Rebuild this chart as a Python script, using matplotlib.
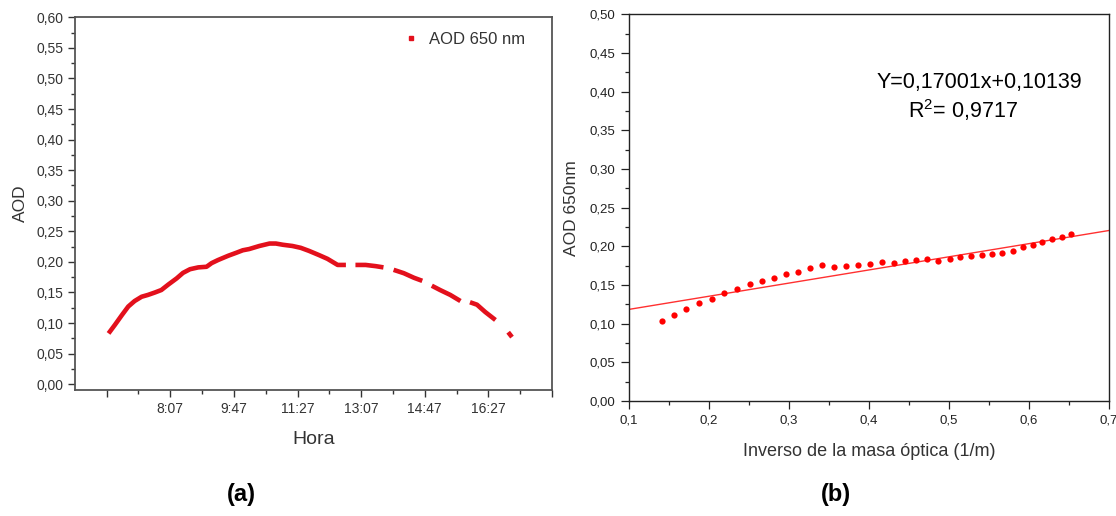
import numpy as np
import matplotlib
matplotlib.use('Agg')
import matplotlib.pyplot as plt
from matplotlib.ticker import MultipleLocator, FuncFormatter, FixedLocator
from matplotlib.lines import Line2D

plt.rcParams['font.family'] = ['Liberation Sans', 'DejaVu Sans']
plt.rcParams['mathtext.fontset'] = 'custom'
plt.rcParams['mathtext.rm'] = 'Liberation Sans'

###############################################################################
# Datos
###############################################################################
# (a) AOD 650 nm a lo largo del dia (minutos desde medianoche, NaN = hueco)
hora_min = [390, 400, 411, 421, 431, 442, 452, 463, 473, 484, 497, 507, 518,
            531, 544, 552, 562, 578, 591, 601, 611, 627, 643, 653, 664, 679,
            692, 705, 721, 734, 750, 763, np.nan,
            778, 794, 810, 822, np.nan,
            838, 854, 870, 883, np.nan,
            898, 911, 927, 943, np.nan,
            958, 969, 982, 998, np.nan,
            1018, 1024]
aod_650 = [0.083, 0.097, 0.113, 0.127, 0.136, 0.143, 0.146, 0.150, 0.154,
           0.163, 0.173, 0.182, 0.188, 0.191, 0.192, 0.198, 0.203, 0.210,
           0.215, 0.219, 0.221, 0.226, 0.230, 0.230, 0.228, 0.226, 0.223,
           0.218, 0.211, 0.205, 0.195, 0.195, np.nan,
           0.195, 0.195, 0.193, 0.191, np.nan,
           0.187, 0.1815, 0.174, 0.169, np.nan,
           0.161, 0.154, 0.146, 0.136, np.nan,
           0.134, 0.130, 0.118, 0.105, np.nan,
           0.085, 0.077]
ticks_hora = [387, 487, 587, 687, 787, 887, 987, 1087]
etiquetas_hora = ['', '8:07', '9:47', '11:27', '13:07', '14:47', '16:27', '']

# (b) AOD vs inverso de la masa optica
inv_masa = [0.141, 0.156, 0.172, 0.188, 0.204, 0.219, 0.235, 0.251, 0.266,
            0.281, 0.297, 0.312, 0.327, 0.342, 0.357, 0.372, 0.387, 0.402,
            0.416, 0.431, 0.445, 0.459, 0.473, 0.487, 0.501, 0.514, 0.528,
            0.541, 0.554, 0.567, 0.580, 0.593, 0.605, 0.617, 0.629, 0.642,
            0.653]
aod_b = [0.1034, 0.1108, 0.1193, 0.1263, 0.1319, 0.1396, 0.1448, 0.1509,
         0.1548, 0.1590, 0.1642, 0.1672, 0.1720, 0.1762, 0.1729, 0.1746,
         0.1762, 0.1775, 0.1801, 0.1784, 0.1806, 0.1823, 0.1840, 0.1814,
         0.1836, 0.1858, 0.1879, 0.1892, 0.1905, 0.1917, 0.1943, 0.1991,
         0.2017, 0.2052, 0.2099, 0.2120, 0.2155]
pendiente, intercepto = 0.17001, 0.10139

###############################################################################
def coma(nd):
    # decimales con coma
    return FuncFormatter(lambda v, p: f'{v:.{nd}f}'.replace('.', ','))
###############################################################################

fig = plt.figure(figsize=(11.16, 5.16), dpi=100)
rojo = '#e3101c'

# ---------------- (a)
ax1 = fig.add_axes([0.0676, 0.2442, 0.4271, 0.7223])
ax1.plot(hora_min, aod_650, '-', color=rojo, lw=3.3, solid_capstyle='butt')
ax1.set_xlim(338, 1087)
ax1.set_ylim(-0.0095, 0.60)
ax1.yaxis.set_major_locator(MultipleLocator(0.05))
ax1.yaxis.set_minor_locator(MultipleLocator(0.025))
ax1.yaxis.set_major_formatter(coma(2))
ax1.set_xticks(ticks_hora)
ax1.set_xticklabels(etiquetas_hora)
medios = [(a + b) / 2 for a, b in zip(ticks_hora[:-1], ticks_hora[1:])]
ax1.xaxis.set_minor_locator(FixedLocator(medios))
ax1.tick_params(which='both', direction='out', colors='#333333', labelsize=10,
                width=1.0)
ax1.tick_params(which='major', length=5)
ax1.tick_params(which='minor', length=3)
for s in ax1.spines.values():
    s.set_color('#555555')
    s.set_linewidth(1.3)
ax1.set_xlabel('Hora', fontsize=14, color='#333333', labelpad=11)
ax1.set_ylabel('AOD', fontsize=12.5, color='#333333', labelpad=6)
h = Line2D([], [], marker='s', ls='', color=rojo, ms=3)
ax1.legend([h], ['AOD 650 nm'], loc='upper right', frameon=False,
           fontsize=12, handlelength=1.0, handletextpad=0.6,
           bbox_to_anchor=(0.975, 1.0), labelcolor='#333333')

# ---------------- (b)
ax2 = fig.add_axes([0.5634, 0.2229, 0.4301, 0.7494])
x_fit = np.array([0.1, 0.7])
ax2.plot(x_fit, pendiente * x_fit + intercepto, '-', color='#ff3030', lw=1.0)
ax2.plot(inv_masa, aod_b, 'o', color='#ff0000', ms=4.5, mec='none')
ax2.set_xlim(0.1, 0.7)
ax2.set_ylim(0, 0.5)
ax2.xaxis.set_major_locator(MultipleLocator(0.1))
ax2.xaxis.set_minor_locator(MultipleLocator(0.05))
ax2.yaxis.set_major_locator(MultipleLocator(0.05))
ax2.yaxis.set_minor_locator(MultipleLocator(0.025))
ax2.xaxis.set_major_formatter(coma(1))
ax2.yaxis.set_major_formatter(coma(2))
ax2.tick_params(which='both', direction='out', colors='#222222', labelsize=9.5,
                width=0.9)
ax2.tick_params(which='major', length=6)
ax2.tick_params(which='minor', length=3)
for s in ax2.spines.values():
    s.set_color('#222222')
    s.set_linewidth(1.0)
ax2.set_xlabel('Inverso de la masa óptica (1/m)', fontsize=13, color='#333333',
               labelpad=12)
ax2.set_ylabel('AOD 650nm', fontsize=12.5, color='#333333', labelpad=8)
ax2.text(0.4103, 0.405, 'Y=0,17001x+0,10139', fontsize=15.5, color='black')
ax2.text(0.4495, 0.366, r'R$^{2}$= 0,9717', fontsize=15.5, color='black')

fig.text(0.2166, 0.03, '(a)', fontsize=17, fontweight='bold', ha='center')
fig.text(0.749, 0.03, '(b)', fontsize=17, fontweight='bold', ha='center')

fig.savefig('out.png', dpi=100)
